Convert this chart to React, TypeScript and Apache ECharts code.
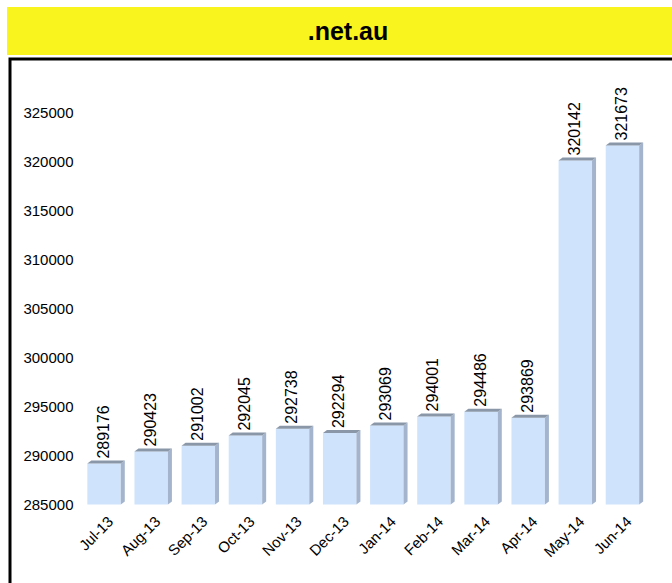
import React, { useEffect, useRef } from "react";
import * as echarts from "echarts";

const categories = ["Jul-13", "Aug-13", "Sep-13", "Oct-13", "Nov-13", "Dec-13", "Jan-14", "Feb-14", "Mar-14", "Apr-14", "May-14", "Jun-14"];
const values = [289176, 290423, 291002, 292045, 292738, 292294, 293069, 294001, 294486, 293869, 320142, 321673];
const yMin = 285000;
const yMax = 330000;
const yStep = 5000;
const titleText = ".net.au";

const FONT = "'Liberation Sans', Arial, Helvetica, sans-serif";

export default function App() {
  const ref = useRef<HTMLDivElement>(null);
  useEffect(() => {
    if (!ref.current) return;
    const chart = echarts.init(ref.current, null, { renderer: "svg" });
    const dx = 4;
    const dy = 3;
    chart.setOption({
      animation: false,
      backgroundColor: "#ffffff",
      graphic: [
        { type: "rect", shape: { x: 7, y: 7, width: 700, height: 48 }, style: { fill: "#F9F41D" }, z: 0 },
        { type: "rect", shape: { x: 10, y: 59, width: 700, height: 600 }, style: { fill: "none", stroke: "#000", lineWidth: 3 }, z: 0 },
        {
          type: "text",
          x: 348,
          y: 31,
          style: { text: titleText, fill: "#000", font: `bold 25px ${FONT}`, align: "center", verticalAlign: "middle" },
          z: 5,
        },
      ],
      grid: { left: 80.5, right: 26, top: 64, bottom: 78.5, containLabel: false },
      xAxis: {
        type: "category",
        data: categories,
        axisLine: { show: false },
        axisTick: { show: false },
        axisLabel: { show: false },
      },
      yAxis: {
        type: "value",
        min: yMin,
        max: yMax,
        interval: yStep,
        axisLine: { show: false },
        axisTick: { show: false },
        splitLine: { show: false },
        axisLabel: {
          showMaxLabel: false,
          fontSize: 15,
          fontFamily: FONT,
          color: "#000",
          margin: 7,
          formatter: (v: number) => String(v),
        },
      },
      series: [
        {
          type: "custom",
          data: values.map((v, i) => [i, v]),
          renderItem: (params: any, api: any) => {
            const i = api.value(0);
            const v = api.value(1);
            const top = api.coord([i, v]);
            const base = api.coord([i, yMin]);
            const band = api.size([1, 0])[0];
            const w = band * 0.71;
            const x0 = top[0] - w / 2;
            const x1 = top[0] + w / 2;
            const yt = top[1];
            const yb = base[1];
            return {
              type: "group",
              children: [
                { type: "rect", shape: { x: x0, y: yt, width: w, height: yb - yt }, style: { fill: "#D0E3FC" } },
                {
                  type: "polygon",
                  shape: { points: [[x1, yt], [x1 + dx, yt - dy], [x1 + dx, yb - dy], [x1, yb]] },
                  style: { fill: "#A3B4CC" },
                },
                {
                  type: "polygon",
                  shape: { points: [[x0, yt], [x0 + dx, yt - dy], [x1 + dx, yt - dy], [x1, yt]] },
                  style: { fill: "#8A97A9" },
                },
                {
                  type: "text",
                  x: top[0] - 1,
                  y: yt - dy - 2,
                  rotation: Math.PI / 2,
                  style: { text: String(v), fill: "#000", font: `16px ${FONT}`, align: "left", verticalAlign: "middle" },
                },
                {
                  type: "text",
                  x: top[0] + 1,
                  y: yb + 9,
                  rotation: Math.PI / 4,
                  style: { text: categories[i], fill: "#000", font: `15px ${FONT}`, align: "right", verticalAlign: "top" },
                },
              ],
            };
          },
        },
      ],
    });
    return () => chart.dispose();
  }, []);
  return <div ref={ref} style={{ position: "absolute", left: 0, top: 0, width: 672, height: 583 }} />;
}
